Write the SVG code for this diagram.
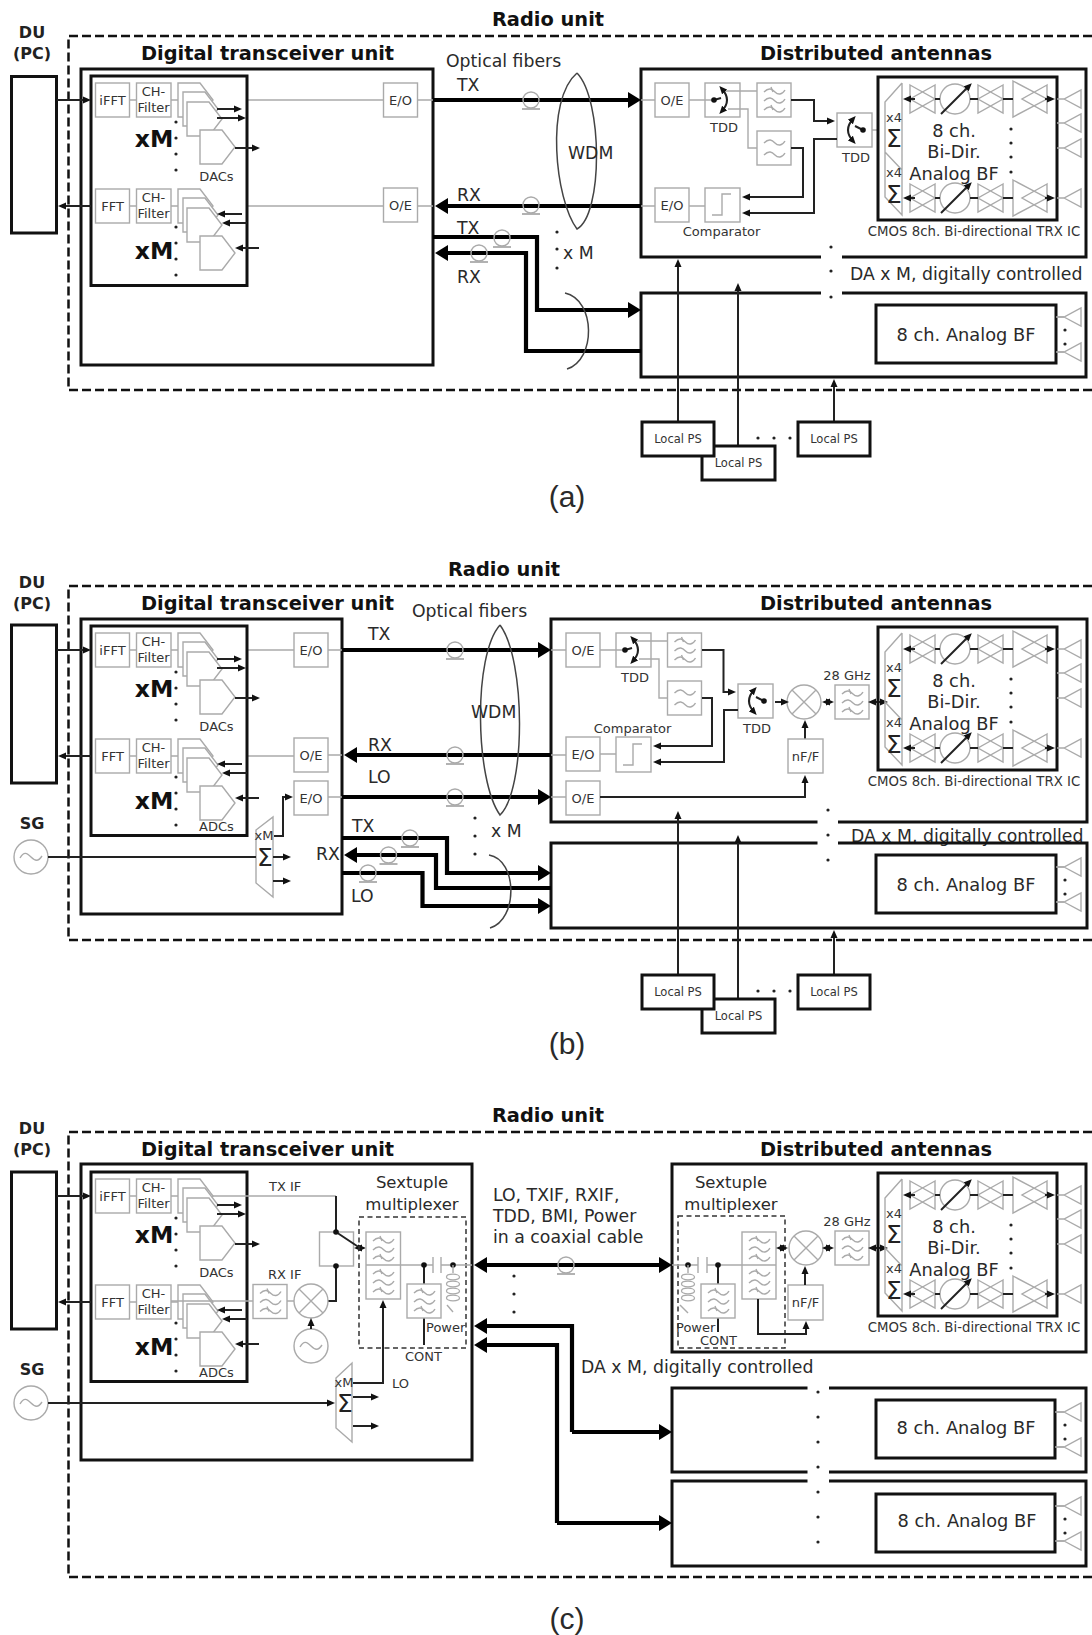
<svg xmlns="http://www.w3.org/2000/svg" xmlns:xlink="http://www.w3.org/1999/xlink" width="1092" height="1635" viewBox="0 0 1092 1635">
<style>
text{font-family:"DejaVu Sans","Liberation Sans",sans-serif;fill:#2a2a2a}
.c{text-anchor:middle}
.h{font-weight:bold;font-size:19.400px;fill:#111}
.b2{font-weight:bold;font-size:16px;fill:#222}
.x{font-weight:bold;font-size:23.500px;fill:#111}
.s{font-size:11.500px;fill:#333}
.cm{font-size:13.300px;fill:#333}
.n{font-size:13px;fill:#333}
.m{font-size:17.300px}
.l{font-size:17.800px}
.sx{font-size:16.500px}
.sg{font-size:25px;fill:#222}
.cap{font-family:"Liberation Sans",Arial,sans-serif;font-size:30px}
.box{fill:#fff;stroke:#111;stroke-width:3}
.box0{fill:none;stroke:#111;stroke-width:3}
.gb{fill:#fff;stroke:#aaa;stroke-width:1.4}
.gl{fill:none;stroke:#aaa;stroke-width:1.4}
.bl{fill:none;stroke:#222;stroke-width:2}
.th{fill:none;stroke:#000;stroke-width:4.2}
.dash{fill:none;stroke:#111;stroke-width:2.5;stroke-dasharray:9 4}
.dash2{fill:none;stroke:#333;stroke-width:1.5;stroke-dasharray:5 3.5}
.curve{fill:none;stroke:#444;stroke-width:1.5}
</style>
<defs>
<marker id="a" markerUnits="userSpaceOnUse" markerWidth="8" markerHeight="8" refX="4" refY="4" orient="auto-start-reverse"><path d="M0,.5L8,4L0,7.500Z" fill="#111"/></marker>
<marker id="A" markerUnits="userSpaceOnUse" markerWidth="14" markerHeight="16" refX="4" refY="8" orient="auto-start-reverse"><path d="M0,0L13,8L0,16Z" fill="#000"/></marker>
<circle id="d" r="1.600" fill="#222"/>
<circle id="D" r="2.800" fill="#111"/>
<g id="w3"><path class="gl" d="M7,9c5,-5 8,-3 11,0s7,3 10,-2M7,18c5,-5 8,-3 11,0s7,3 10,-2M7,27c5,-5 8,-3 11,0s7,3 10,-2"/><path class="gl" d="M14,4l2,5M14,22l2,5"/></g>
<g id="w2"><path class="gl" d="M7,12c5,-5 8,-3 11,0s7,3 10,-2M7,24c5,-5 8,-3 11,0s7,3 10,-2"/></g>
<g id="f3"><rect class="gb" width="34" height="34"/><use href="#w3"/></g>
<g id="f2"><rect class="gb" width="34" height="34"/><use href="#w2"/></g>
<g id="sw1"><rect class="gb" width="35" height="34"/><path class="gl" d="M0,17H9M20,8H35M23,26H35"/><path class="bl" d="M9,17L16,15"/><path class="bl" d="M17,6Q27,17 17,28" marker-start="url(#a)" marker-end="url(#a)"/><use href="#D" x="9" y="17"/></g>
<g id="sw2"><rect class="gb" width="35" height="34"/><path class="bl" d="M26,17L18,13"/><path class="bl" d="M16,6Q6,17 16,28" marker-start="url(#a)" marker-end="url(#a)"/><use href="#D" x="26" y="17"/></g>
<path id="bt" class="gl" d="M0,-14L25,0L0,14ZM25,-14L0,0L25,14Z"/>
<path id="bt2" class="gl" d="M0,-18L34,0L0,18ZM34,-14L9,0L34,14Z"/>
<path id="ant" class="gl" d="M-7,0H0L17,-9V9L0,0"/>
<g id="osc"><circle r="17" fill="#fff" stroke="#aaa" stroke-width="1.400"/><path class="gl" d="M-11,1c4,-7 7,-5 11,-1s7,5 11,-1"/></g>
<g id="mix"><circle r="17" fill="#fff" stroke="#aaa" stroke-width="1.400"/><path class="gl" d="M-12,-12L12,12M-12,12L12,-12"/></g>
<path id="pent" class="gb" d="M0,0H22L35,17L22,34H0Z"/>
<g id="stack"><use href="#pent" x="178" y="83"/><use href="#pent" x="183" y="92"/><use href="#pent" x="187" y="102"/><use href="#pent" x="200" y="130"/></g>
<g id="coil"><path class="gl" d="M0,0V8"/><g fill="none" stroke="#aaa" stroke-width="1.300"><ellipse cy="12" rx="6.500" ry="2.800"/><ellipse cy="19" rx="6.500" ry="2.800"/><ellipse cy="26" rx="6.500" ry="2.800"/><ellipse cy="33" rx="6.500" ry="2.800"/></g></g>
<g id="spool"><circle r="8" fill="none" stroke="#aaa" stroke-width="1.400"/><path d="M-9,9H9" stroke="#aaa" stroke-width="1.800"/></g>
<g id="innerShapes">
<rect class="box" x="91" y="76" width="156" height="209.500"/>
<use href="#stack"/><use href="#stack" y="106"/>
<rect class="gb" x="95.500" y="83" width="34" height="34"/><rect class="gb" x="136.500" y="83" width="34.500" height="34"/>
<rect class="gb" x="95.500" y="189" width="34" height="34"/><rect class="gb" x="136.500" y="189" width="34.500" height="34"/>
<path class="gl" d="M129.500,100H136.500M171,100H178M129.500,206H136.500M171,206H178"/>
<path class="bl" d="M217,109H238" marker-end="url(#a)"/><path class="bl" d="M217,118H242" marker-end="url(#a)"/><path class="bl" d="M235,148H256" marker-end="url(#a)"/>
<path class="bl" d="M242,214H221" marker-end="url(#a)"/><path class="bl" d="M247,223H226" marker-end="url(#a)"/><path class="bl" d="M259,248H239" marker-end="url(#a)"/>
<use href="#d" x="176" y="122"/><use href="#d" x="176" y="138"/><use href="#d" x="176" y="154"/><use href="#d" x="176" y="170"/>
<use href="#d" x="176" y="227"/><use href="#d" x="176" y="243"/><use href="#d" x="176" y="259"/><use href="#d" x="176" y="275"/>
</g>
<g id="icRow"><use href="#bt" x="910"/><circle cx="955" r="15" fill="#fff" stroke="#aaa" stroke-width="1.400"/><use href="#bt" x="978"/><use href="#bt2" x="1013"/>
<path class="bl" d="M935,0H940M970,0H978M1003,0H1013"/><path class="bl" d="M915,0H907" marker-end="url(#a)"/><path class="bl" d="M1045,0H1051" marker-end="url(#a)"/><path class="bl" d="M941,15L969,-13" marker-end="url(#a)"/></g>
<g id="icShapes">
<rect class="box0" x="878" y="77" width="179" height="143"/>
<path class="gl" d="M902,83L885,102V197L902,215V83M885,152L902,170"/>
<use href="#icRow" y="99"/><use href="#icRow" y="198"/>
<use href="#ant" x="1064" y="99"/><use href="#ant" x="1064" y="123"/><use href="#ant" x="1064" y="148"/><use href="#ant" x="1064" y="198"/>
<use href="#d" x="1011" y="129"/><use href="#d" x="1011" y="143"/><use href="#d" x="1011" y="157"/><use href="#d" x="1011" y="172"/>
</g>
<g id="bfShapes"><use href="#ant" x="1064" y="0"/><use href="#ant" x="1064" y="35"/><use href="#d" x="1065" y="13"/><use href="#d" x="1065" y="27"/></g>
</defs>
<rect width="1092" height="1635" fill="#fff"/>

<g id="panel-a">
<text class="h c" x="548" y="26">Radio unit</text>
<path id="radio-a" class="dash" d="M1092,36H68.500V390H1092"/>
<g id="du-a"><text class="b2 c" x="32" y="38">DU</text><text class="b2 c" x="32" y="59">(PC)</text><rect class="box" x="11.500" y="76.500" width="45" height="156.500"/></g>
<g id="dtu-a"><rect class="box" x="81" y="69" width="352" height="296"/><text class="h c" x="267.500" y="60">Digital transceiver unit</text>
<path class="gl" d="M213,100H383.500M417.500,100H433M171,206H383.500M417.500,206H433"/>
<use href="#innerShapes"/>
<text class="n c" x="112.500" y="105">iFFT</text><text class="n c" x="153.500" y="96">CH-</text><text class="n c" x="153.500" y="112">Filter</text>
<text class="n c" x="112.500" y="211">FFT</text><text class="n c" x="153.500" y="202">CH-</text><text class="n c" x="153.500" y="218">Filter</text>
<text class="x c" x="154" y="147">xM</text><text class="x c" x="154" y="259">xM</text><text class="n c" x="216.500" y="181">DACs</text>
<rect class="gb" x="383.500" y="83" width="34" height="34"/><text class="n c" x="400.500" y="105">E/O</text>
<rect class="gb" x="383.500" y="188" width="34" height="34"/><text class="n c" x="400.500" y="210">O/E</text></g>
<g id="da1-a">
<path d="M821,257H641V69H1086V257H842" class="box0"/>
<text class="h c" x="876" y="60">Distributed antennas</text>
<path class="gl" d="M641,100H655M689,100H705M689,206H705M641,206H655M740,91H757M740,109H748V148H757"/>
<rect class="gb" x="655" y="83" width="34" height="34"/><text class="n c" x="672" y="105">O/E</text>
<use href="#sw1" x="705" y="83"/><text class="n c" x="724" y="132">TDD</text>
<use href="#f3" x="757" y="83"/><use href="#f2" x="757" y="131"/>
<use href="#sw2" x="837" y="113"/><text class="n c" x="856" y="162">TDD</text>
<rect class="gb" x="655" y="188" width="34" height="34"/><text class="n c" x="672" y="210">E/O</text>
<rect class="gb" x="705" y="188" width="35" height="34"/><path class="gl" d="M712,215H722V194H731"/><text class="n c" x="721.500" y="236">Comparator</text>
<path class="bl" d="M791,100H814V121H831" marker-end="url(#a)"/><path class="bl" d="M837,139H814V213H746" marker-end="url(#a)"/><path class="bl" d="M791,148H803V197H746" marker-end="url(#a)"/><path class="gl" d="M872,130H878"/>
<use href="#icShapes"/>
<text class="l c" x="954" y="137">8 ch.</text><text class="l c" x="954" y="158">Bi-Dir.</text><text class="l c" x="954" y="180">Analog BF</text>
<text class="n" x="886" y="122">x4</text><text class="n" x="886" y="177">x4</text><text class="sg c" x="894" y="147">Σ</text><text class="sg c" x="894" y="203">Σ</text>
<text class="cm c" x="974" y="236">CMOS 8ch. Bi-directional TRX IC</text>
</g>
<g id="da2-a"><path d="M821,293H641V377H1086V293H842" class="box0"/><rect class="box" x="876" y="305" width="180" height="58"/><text class="l c" x="966" y="341">8 ch. Analog BF</text><use href="#bfShapes" y="317"/><path class="gl" d="M1056,317H1064M1056,352H1064"/></g>
<text class="m" x="850" y="280">DA x M, digitally controlled</text>
<g id="marks-a"><use href="#d" x="831" y="247"/><use href="#d" x="831" y="271"/><use href="#d" x="831" y="297"/><use href="#d" x="557" y="232"/><use href="#d" x="557" y="249"/><use href="#d" x="557" y="268"/><use href="#d" x="758" y="438"/><use href="#d" x="774" y="438"/><use href="#d" x="790" y="438"/></g>
<g id="conn-a">
<path class="th" d="M433,100H632" marker-end="url(#A)"/><path class="th" d="M641,206H444" marker-end="url(#A)"/>
<path class="th" d="M433,237H537V310H632" marker-end="url(#A)"/><path class="th" d="M641,351H526V253H444" marker-end="url(#A)"/>
<path class="bl" d="M57,100H87" marker-end="url(#a)"/><path class="bl" d="M91,206H62" marker-end="url(#a)"/>
<path class="bl" d="M678,422V263" marker-end="url(#a)"/><path class="bl" d="M738,446V287" marker-end="url(#a)"/><path class="bl" d="M834,422V383" marker-end="url(#a)"/>
<path class="curve" d="M577,73C545,100 555,200 577,229C603,215 603,100 577,73" /><path class="curve" d="M565,293C596,300 596,360 567,369"/>
<use href="#spool" x="531" y="100"/><use href="#spool" x="531" y="205"/><use href="#spool" x="502" y="238"/><use href="#spool" x="479" y="253"/>
</g>
<text class="m" x="446" y="67">Optical fibers</text><text class="m" x="457" y="91">TX</text><text class="m" x="457" y="201">RX</text><text class="m" x="457" y="234">TX</text><text class="m" x="457" y="283">RX</text><text class="m" x="568" y="159">WDM</text><text class="m" x="563" y="259">x M</text>
<g id="ps2-a"><rect class="box" x="702" y="446" width="73" height="34"/><text class="s c" x="738.500" y="467">Local PS</text></g>
<g id="ps1-a"><rect class="box" x="642" y="422" width="72" height="34"/><text class="s c" x="678" y="443">Local PS</text></g>
<g id="ps3-a"><rect class="box" x="798" y="422" width="72" height="34"/><text class="s c" x="834" y="443">Local PS</text></g>
<text class="cap c" x="567" y="507">(a)</text>
</g>

<g id="panel-b">
<text class="h c" x="504" y="576">Radio unit</text>
<path id="radio-b" class="dash" d="M1092,586H68.500V940H1092"/>
<g id="du-b"><text class="b2 c" x="32" y="588">DU</text><text class="b2 c" x="32" y="609">(PC)</text><rect class="box" x="11.500" y="625" width="45" height="158"/></g>
<g id="dtu-b"><rect class="box" x="81" y="619" width="261" height="295"/><text class="h c" x="267.500" y="610">Digital transceiver unit</text>
<path class="gl" d="M213,650H294M328,650H342M171,756H294M328,755H342M328,797H342"/>
<use href="#innerShapes" y="550"/>
<text class="n c" x="112.500" y="655">iFFT</text><text class="n c" x="153.500" y="646">CH-</text><text class="n c" x="153.500" y="662">Filter</text>
<text class="n c" x="112.500" y="761">FFT</text><text class="n c" x="153.500" y="752">CH-</text><text class="n c" x="153.500" y="768">Filter</text>
<text class="x c" x="154" y="697">xM</text><text class="x c" x="154" y="809">xM</text><text class="n c" x="216.500" y="731">DACs</text><text class="n c" x="216.500" y="831">ADCs</text>
<rect class="gb" x="294" y="633" width="34" height="34"/><text class="n c" x="311" y="655">E/O</text>
<rect class="gb" x="294" y="738" width="34" height="34"/><text class="n c" x="311" y="760">O/E</text>
<rect class="gb" x="294" y="781" width="34" height="34"/><text class="n c" x="311" y="803">E/O</text>
<path class="gl" d="M256,830L273,817V897L256,883Z"/><text class="n c" x="264" y="840">xM</text><text class="sg c" x="265" y="866">Σ</text>
<path class="bl" d="M274,836H283V797H289" marker-end="url(#a)"/><path class="bl" d="M273,857H287" marker-end="url(#a)"/><path class="bl" d="M273,881H287" marker-end="url(#a)"/></g>
<g id="sg-b"><text class="b2 c" x="32" y="829">SG</text><use href="#osc" x="31" y="857"/></g>
<g id="da1-b">
<path d="M817.500,822H551V619H1087V822H838" class="box0"/>
<text class="h c" x="876" y="610">Distributed antennas</text>
<path class="gl" d="M551,650H566M600,650H616M600,754H616M551,755H566M651,641H667.500M651,659H659V698H667.500M551,797H566"/>
<rect class="gb" x="566" y="633" width="34" height="34"/><text class="n c" x="583" y="655">O/E</text>
<use href="#sw1" x="616" y="633"/><text class="n c" x="635" y="682">TDD</text>
<use href="#f3" x="667.500" y="633"/><use href="#f2" x="667.500" y="681"/>
<use href="#sw2" x="738" y="684"/><text class="n c" x="757" y="733">TDD</text>
<rect class="gb" x="566" y="737" width="34" height="34"/><text class="n c" x="583" y="759">E/O</text>
<rect class="gb" x="616" y="737" width="35" height="35"/><path class="gl" d="M623,765H633V744H642"/><text class="n c" x="632.500" y="733">Comparator</text>
<rect class="gb" x="566" y="781" width="34" height="34"/><text class="n c" x="583" y="803">O/E</text>
<path class="bl" d="M702,650H723.500V692H732" marker-end="url(#a)"/><path class="bl" d="M738,710H724V762H657" marker-end="url(#a)"/><path class="bl" d="M702,698H712V746H657" marker-end="url(#a)"/>
<path class="bl" d="M600,797H805V779" marker-end="url(#a)"/><path class="bl" d="M805,739V724" marker-end="url(#a)"/>
<use href="#mix" x="804" y="702"/><use href="#f3" x="835" y="685"/><text class="n c" x="847" y="680">28 GHz</text>
<rect class="gb" x="788" y="739" width="35" height="34"/><text class="n c" x="805.500" y="761">nF/F</text>
<path class="bl" d="M775,702H785" marker-end="url(#a)"/><path class="bl" d="M826,702H830" marker-start="url(#a)" marker-end="url(#a)"/><path class="bl" d="M872,702H884" marker-start="url(#a)" marker-end="url(#a)"/>
<use href="#icShapes" y="550"/>
<text class="l c" x="954" y="687">8 ch.</text><text class="l c" x="954" y="708">Bi-Dir.</text><text class="l c" x="954" y="730">Analog BF</text>
<text class="n" x="886" y="672">x4</text><text class="n" x="886" y="727">x4</text><text class="sg c" x="894" y="697">Σ</text><text class="sg c" x="894" y="753">Σ</text>
<text class="cm c" x="974" y="786">CMOS 8ch. Bi-directional TRX IC</text>
</g>
<text class="m" x="851" y="842">DA x M, digitally controlled</text>
<g id="da2-b"><path d="M817.500,843H551V928H1087V843H838" class="box0"/><rect class="box" x="876" y="855" width="180" height="58"/><text class="l c" x="966" y="891">8 ch. Analog BF</text><use href="#bfShapes" y="867"/><path class="gl" d="M1056,867H1064M1056,902H1064"/></g>
<g id="marks-b"><use href="#d" x="828" y="810"/><use href="#d" x="828" y="835"/><use href="#d" x="828" y="860"/><use href="#d" x="475" y="818"/><use href="#d" x="475" y="836"/><use href="#d" x="475" y="854"/><use href="#d" x="758" y="991"/><use href="#d" x="774" y="991"/><use href="#d" x="790" y="991"/></g>
<g id="conn-b">
<path class="th" d="M342,650H542" marker-end="url(#A)"/><path class="th" d="M551,755H353" marker-end="url(#A)"/><path class="th" d="M342,797H542" marker-end="url(#A)"/>
<path class="th" d="M342,838H447V873H542" marker-end="url(#A)"/><path class="th" d="M551,888H436V855H353" marker-end="url(#A)"/><path class="th" d="M342,873H422.500V906H542" marker-end="url(#A)"/>
<path class="bl" d="M57,650H87" marker-end="url(#a)"/><path class="bl" d="M91,756H62" marker-end="url(#a)"/><path class="bl" d="M48,857H256"/>
<path class="bl" d="M678,975V815" marker-end="url(#a)"/><path class="bl" d="M738,999V839" marker-end="url(#a)"/><path class="bl" d="M834,975V934" marker-end="url(#a)"/>
<path class="curve" d="M500,625C473,655 475,780 500,815C526,790 526,660 500,625"/><path class="curve" d="M489,855C518,860 518,920 490,928"/>
<use href="#spool" x="455" y="650"/><use href="#spool" x="455" y="755"/><use href="#spool" x="455" y="797"/><use href="#spool" x="410" y="838"/><use href="#spool" x="388.500" y="855"/><use href="#spool" x="368" y="873"/>
</g>
<text class="m" x="412" y="617">Optical fibers</text><text class="m" x="368" y="640">TX</text><text class="m" x="368" y="751">RX</text><text class="m" x="368" y="783">LO</text><text class="m" x="471" y="718">WDM</text><text class="m" x="491" y="837">x M</text><text class="m" x="352" y="832">TX</text><text class="m" x="316" y="860">RX</text><text class="m" x="351" y="902">LO</text>
<g id="ps2-b"><rect class="box" x="702" y="999" width="73" height="34"/><text class="s c" x="738.500" y="1020">Local PS</text></g>
<g id="ps1-b"><rect class="box" x="642" y="975" width="72" height="34"/><text class="s c" x="678" y="996">Local PS</text></g>
<g id="ps3-b"><rect class="box" x="798" y="975" width="72" height="34"/><text class="s c" x="834" y="996">Local PS</text></g>
<text class="cap c" x="567" y="1054">(b)</text>
</g>

<g id="panel-c">
<text class="h c" x="548" y="1122">Radio unit</text>
<path id="radio-c" class="dash" d="M1092,1132H68.500V1577H1092"/>
<g id="du-c"><text class="b2 c" x="32" y="1134">DU</text><text class="b2 c" x="32" y="1155">(PC)</text><rect class="box" x="11.500" y="1172" width="45" height="157"/></g>
<g id="dtu-c"><rect class="box" x="81" y="1164" width="391" height="296"/><text class="h c" x="267.500" y="1156">Digital transceiver unit</text>
<use href="#innerShapes" y="1096"/>
<text class="n c" x="112.500" y="1201">iFFT</text><text class="n c" x="153.500" y="1192">CH-</text><text class="n c" x="153.500" y="1208">Filter</text>
<text class="n c" x="112.500" y="1307">FFT</text><text class="n c" x="153.500" y="1298">CH-</text><text class="n c" x="153.500" y="1314">Filter</text>
<text class="x c" x="154" y="1243">xM</text><text class="x c" x="154" y="1355">xM</text><text class="n c" x="216.500" y="1277">DACs</text><text class="n c" x="216.500" y="1377">ADCs</text>
<path class="gl" d="M213,1196H336M171,1301H253M287,1301H294"/><path class="bl" d="M336,1196V1232"/>
<text class="n" x="269" y="1191">TX IF</text><text class="n" x="268" y="1279">RX IF</text>
<rect class="gb" x="319.500" y="1232" width="34" height="34"/><path class="bl" d="M336,1232L360,1248M336,1266V1301H328"/><use href="#D" x="336" y="1232"/><use href="#D" x="336" y="1266"/>
<path class="bl" d="M358,1248H362" marker-start="url(#a)" marker-end="url(#a)"/>
<use href="#f3" x="253" y="1284.500"/><use href="#mix" x="311" y="1301"/><use href="#osc" x="311" y="1346"/><path class="bl" d="M311,1329V1322" marker-end="url(#a)"/>
<text class="sx c" x="412" y="1188">Sextuple</text><text class="sx c" x="412" y="1210">multiplexer</text>
<rect class="dash2" x="359" y="1217" width="107" height="131"/>
<rect class="gb" x="366" y="1232" width="34.500" height="67"/><path class="gl" d="M366,1265H433M441,1265H472M433,1257V1273M441,1257V1273"/><use href="#w3" x="366" y="1232"/><use href="#w3" x="366" y="1265"/>
<path class="bl" d="M424,1265V1284M424,1318V1345"/><use href="#D" x="424" y="1265"/><use href="#D" x="453" y="1265"/><use href="#f3" x="407" y="1284"/>
<use href="#coil" x="453" y="1265"/><path class="gl" d="M447,1305L453,1312"/>
<text class="n" x="426" y="1332">Power</text><text class="n" x="405" y="1361">CONT</text>
<path class="gl" d="M336,1378L352,1363V1442L336,1428Z"/><text class="n c" x="344" y="1387">xM</text><text class="sg c" x="345" y="1412">Σ</text>
<path class="bl" d="M353,1383H383V1304" marker-end="url(#a)"/><path class="bl" d="M353,1397H375" marker-end="url(#a)"/><path class="bl" d="M353,1426H375" marker-end="url(#a)"/>
<text class="n" x="392" y="1388">LO</text></g>
<g id="sg-c"><text class="b2 c" x="32" y="1375">SG</text><use href="#osc" x="31" y="1403"/></g>
<g id="da1-c">
<rect class="box" x="672" y="1164" width="414" height="188"/>
<text class="h c" x="876" y="1156">Distributed antennas</text>
<text class="sx c" x="731" y="1188">Sextuple</text><text class="sx c" x="731" y="1210">multiplexer</text>
<rect class="dash2" x="678" y="1216" width="107" height="132"/>
<rect class="gb" x="742" y="1232" width="34" height="67"/><path class="gl" d="M672,1265H698M707,1265H776M698,1257V1273M707,1257V1273"/><use href="#w3" x="742" y="1232"/><use href="#w3" x="742" y="1265"/>
<path class="bl" d="M718,1265V1284M718,1318V1332"/><use href="#D" x="688" y="1265"/><use href="#D" x="718" y="1265"/><use href="#f3" x="701" y="1284"/>
<use href="#coil" x="688" y="1265"/><path class="gl" d="M680,1305L688,1313"/>
<text class="n" x="676" y="1332">Power</text><text class="n" x="700" y="1345">CONT</text>
<path class="bl" d="M758,1299V1334H806V1325" marker-end="url(#a)"/>
<rect class="gb" x="788" y="1285" width="35" height="35"/><text class="n c" x="805.500" y="1307">nF/F</text><path class="bl" d="M805,1285V1270" marker-end="url(#a)"/>
<use href="#mix" x="806" y="1248"/><use href="#f3" x="835" y="1231"/><text class="n c" x="847" y="1226">28 GHz</text>
<path class="bl" d="M780,1248H784" marker-start="url(#a)" marker-end="url(#a)"/><path class="bl" d="M826,1248H830" marker-start="url(#a)" marker-end="url(#a)"/><path class="bl" d="M872,1248H884" marker-start="url(#a)" marker-end="url(#a)"/>
<use href="#icShapes" y="1096"/>
<text class="l c" x="954" y="1233">8 ch.</text><text class="l c" x="954" y="1254">Bi-Dir.</text><text class="l c" x="954" y="1276">Analog BF</text>
<text class="n" x="886" y="1218">x4</text><text class="n" x="886" y="1273">x4</text><text class="sg c" x="894" y="1243">Σ</text><text class="sg c" x="894" y="1299">Σ</text>
<text class="cm c" x="974" y="1332">CMOS 8ch. Bi-directional TRX IC</text>
</g>
<g id="da2-c"><path d="M807.500,1388H672V1472H807.500M829,1472H1086V1388H829" class="box0"/><rect class="box" x="876" y="1400" width="179" height="58"/><text class="l c" x="966" y="1434">8 ch. Analog BF</text><use href="#bfShapes" y="1412"/><path class="gl" d="M1055,1412H1064M1055,1447H1064"/></g>
<g id="da3-c"><path d="M807.500,1481H672V1566H1086V1481H829" class="box0"/><rect class="box" x="876" y="1494" width="179" height="58"/><text class="l c" x="967" y="1527">8 ch. Analog BF</text><use href="#bfShapes" y="1506"/><path class="gl" d="M1055,1506H1064M1055,1541H1064"/></g>
<g id="marks-c"><use href="#d" x="514" y="1276"/><use href="#d" x="514" y="1294"/><use href="#d" x="514" y="1312"/><use href="#d" x="818" y="1392"/><use href="#d" x="818" y="1417"/><use href="#d" x="818" y="1442"/><use href="#d" x="818" y="1467"/><use href="#d" x="818" y="1492"/><use href="#d" x="818" y="1517"/><use href="#d" x="818" y="1542"/></g>
<g id="conn-c">
<path class="th" d="M483,1265H663" marker-start="url(#A)" marker-end="url(#A)"/>
<path class="th" d="M572,1432V1326H483" marker-end="url(#A)"/><path class="th" d="M572,1432H663" marker-end="url(#A)"/>
<path class="th" d="M557,1523V1345H483" marker-end="url(#A)"/><path class="th" d="M557,1523H663" marker-end="url(#A)"/>
<path class="bl" d="M57,1196H87" marker-end="url(#a)"/><path class="bl" d="M91,1302H62" marker-end="url(#a)"/><path class="bl" d="M48,1403H331" marker-end="url(#a)"/>
<use href="#spool" x="566" y="1265"/>
</g>
<text class="m" x="493" y="1201">LO, TXIF, RXIF,</text><text class="m" x="493" y="1222">TDD, BMI, Power</text><text class="m" x="493" y="1243">in a coaxial cable</text>
<text class="m" x="581" y="1373">DA x M, digitally controlled</text>
<text class="cap c" x="567" y="1629">(c)</text>
</g>
</svg>
